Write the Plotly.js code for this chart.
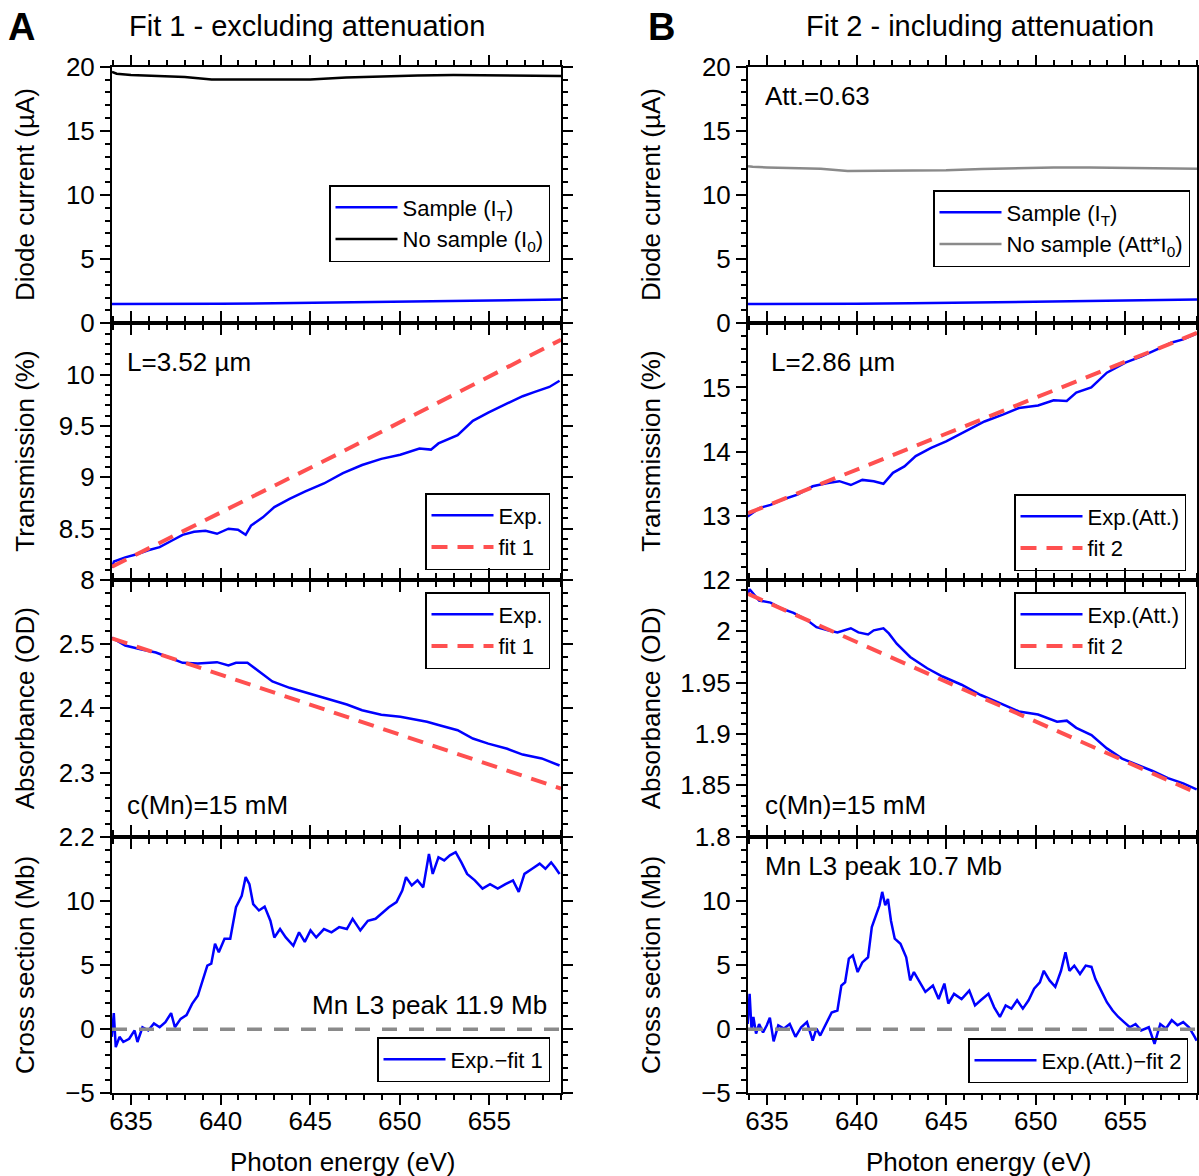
<!DOCTYPE html>
<html><head><meta charset="utf-8">
<script src="https://cdn.plot.ly/plotly-3.0.1.min.js"></script>
<style>body{margin:0;background:#fff}</style>
</head><body><div id="chart" style="width:1199px;height:1176px"></div>
<script>
// ---------------- data ----------------
const energyTicks = [635, 640, 645, 650, 655];

// Row 1: diode currents (µA)
const i0E = [633.94, 634.2, 635, 636.5, 638, 639.5, 641, 643, 645, 647, 649, 651, 653, 655, 657, 659];
const i0V = [19.6, 19.45, 19.35, 19.3, 19.2, 19.0, 19.0, 18.97, 19.0, 19.15, 19.25, 19.32, 19.35, 19.33, 19.3, 19.27];
const attI0V = [12.25, 12.2, 12.15, 12.12, 12.05, 11.88, 11.88, 11.9, 11.92, 12.02, 12.08, 12.15, 12.15, 12.12, 12.1, 12.05];
const itE = [633.94, 637, 640, 643, 646, 649, 652, 655, 659];
const itV = [1.5, 1.5, 1.52, 1.56, 1.62, 1.68, 1.74, 1.79, 1.85];

// Fit lines
const fitE = [633.94, 646.47, 659.0];
const fit1T = [8.13, 9.22, 10.34];
const fit2T = [13.04, 14.44, 15.85];
const fit1A = [2.509, 2.392, 2.275];
const fit2A = [2.0365, 1.939, 1.8425];

// Row 2: transmission (%)
const tLeftE = [633.94, 634.05, 634.68, 635.32, 635.96, 636.6, 637.24, 637.88, 638.52, 639.16, 639.8, 640.44, 640.97, 641.4, 641.7, 642.36, 643.0, 643.85, 644.7, 645.77, 646.83, 647.9, 648.97, 650.03, 651.1, 651.74, 652.16, 653.23, 654.08, 654.94, 656.0, 656.86, 657.5, 658.35, 658.92];
const tLeftV = [8.12, 8.18, 8.22, 8.25, 8.29, 8.32, 8.38, 8.44, 8.47, 8.48, 8.45, 8.5, 8.49, 8.44, 8.53, 8.61, 8.71, 8.79, 8.86, 8.94, 9.04, 9.12, 9.18, 9.22, 9.28, 9.27, 9.33, 9.41, 9.55, 9.63, 9.72, 9.79, 9.83, 9.88, 9.94];
const tRightE = [633.92, 634.56, 635.2, 635.84, 636.7, 637.55, 638.4, 639.04, 639.68, 640.32, 640.96, 641.5, 642.03, 642.67, 643.3, 644.16, 645.0, 646.08, 647.14, 648.2, 649.06, 650.13, 651.0, 651.73, 652.26, 653.1, 653.97, 655.03, 655.88, 656.74, 657.6, 658.23, 658.98];
const tRightV = [12.99, 13.12, 13.17, 13.25, 13.33, 13.46, 13.51, 13.54, 13.48, 13.56, 13.54, 13.5, 13.67, 13.77, 13.93, 14.06, 14.16, 14.32, 14.47, 14.58, 14.68, 14.72, 14.8, 14.79, 14.92, 15.0, 15.23, 15.39, 15.48, 15.59, 15.7, 15.75, 15.84];

// Row 3: absorbance (OD)
const aLeftE = [633.93, 634.68, 635.53, 636.39, 637.24, 637.88, 638.73, 639.37, 639.8, 640.44, 640.86, 641.5, 642.14, 642.89, 643.85, 644.91, 645.98, 647.05, 647.9, 648.97, 650.03, 650.67, 651.52, 652.16, 653.23, 654.08, 654.94, 656.0, 656.86, 657.92, 658.92];
const aLeftV = [2.51, 2.498, 2.492, 2.487, 2.478, 2.471, 2.47, 2.471, 2.472, 2.467, 2.471, 2.471, 2.457, 2.442, 2.432, 2.423, 2.414, 2.406, 2.397, 2.39, 2.387, 2.384, 2.379, 2.374, 2.366, 2.353, 2.345, 2.337, 2.328, 2.322, 2.311];
const aRightE = [633.92, 634.03, 634.56, 635.2, 635.84, 636.48, 637.23, 637.76, 638.4, 638.93, 639.68, 640.1, 640.64, 640.96, 641.5, 641.8, 642.24, 642.99, 643.94, 644.8, 645.86, 646.93, 648.0, 649.06, 650.13, 651.19, 651.73, 652.26, 653.11, 653.97, 654.82, 655.67, 656.52, 657.38, 658.23, 658.98];
const aRightV = [2.035, 2.041, 2.03, 2.028, 2.022, 2.018, 2.011, 2.004, 2.001, 1.999, 2.003, 1.999, 1.997, 2.001, 2.003, 1.998, 1.988, 1.975, 1.964, 1.956, 1.948, 1.938, 1.93, 1.922, 1.919, 1.912, 1.913, 1.906, 1.899, 1.886, 1.876, 1.87, 1.864, 1.857, 1.852, 1.846];

// Row 4: cross section (Mb)
const csLeftE = [633.93, 634.04, 634.15, 634.36, 634.57, 634.9, 635.2, 635.36, 635.64, 635.96, 636.28, 636.6, 636.92, 637.24, 637.45, 637.77, 638.1, 638.41, 638.73, 639.05, 639.26, 639.48, 639.69, 639.9, 640.22, 640.54, 640.86, 641.18, 641.4, 641.61, 641.82, 642.14, 642.46, 642.78, 643.0, 643.32, 643.64, 644.06, 644.38, 644.7, 645.02, 645.34, 645.77, 646.19, 646.62, 647.05, 647.37, 647.8, 648.22, 648.65, 648.97, 649.39, 649.82, 650.14, 650.35, 650.67, 650.99, 651.31, 651.63, 651.84, 652.16, 652.48, 652.8, 653.12, 653.44, 653.76, 654.19, 654.62, 655.04, 655.47, 655.9, 656.32, 656.64, 656.96, 657.39, 657.81, 658.13, 658.45, 658.67, 658.92];
const csLeftV = [-0.6, 1.25, -1.4, -0.6, -1.0, -0.75, -0.1, -1.0, 0.15, -0.1, 0.45, 0.15, 0.55, 1.25, 0.15, 0.8, 1.1, 1.97, 2.6, 4.05, 4.95, 5.1, 6.65, 6.0, 7.05, 7.05, 9.5, 10.4, 11.85, 11.3, 9.75, 9.25, 9.55, 8.45, 7.15, 7.8, 7.15, 6.5, 7.55, 6.8, 7.7, 7.15, 7.8, 7.55, 7.95, 7.8, 8.6, 7.7, 8.45, 8.6, 9.0, 9.5, 9.9, 10.8, 11.85, 11.2, 11.6, 11.05, 13.65, 12.1, 13.4, 13.15, 13.55, 13.8, 13.0, 12.1, 11.6, 10.95, 11.3, 10.95, 11.3, 11.6, 10.7, 12.1, 12.5, 12.9, 12.5, 13.0, 12.6, 12.1];
const csRightE = [633.92, 634.03, 634.14, 634.24, 634.39, 634.56, 634.78, 634.99, 635.16, 635.37, 635.63, 635.95, 636.27, 636.59, 636.91, 637.23, 637.55, 637.76, 637.97, 638.29, 638.61, 638.93, 639.15, 639.36, 639.57, 639.79, 640.06, 640.32, 640.64, 640.85, 641.07, 641.28, 641.43, 641.6, 641.75, 641.92, 642.13, 642.45, 642.77, 642.99, 643.2, 643.52, 643.84, 644.26, 644.58, 644.9, 645.12, 645.44, 645.86, 646.29, 646.61, 646.93, 647.36, 647.68, 648.0, 648.32, 648.64, 648.96, 649.28, 649.6, 649.91, 650.23, 650.45, 650.77, 651.09, 651.41, 651.66, 651.88, 652.15, 652.47, 652.79, 653.11, 653.33, 653.65, 653.97, 654.29, 654.61, 654.93, 655.25, 655.57, 655.88, 656.31, 656.63, 656.95, 657.27, 657.59, 657.91, 658.23, 658.55, 658.87, 658.98];
const csRightV = [0.4, 2.75, -0.1, 0.95, -0.35, 0.4, -0.25, 0.3, 0.9, -0.95, 0.3, 0.05, 0.4, -0.6, 0.15, 0.55, -0.9, 0.05, -0.5, 0.4, 1.3, 1.45, 3.4, 3.65, 5.5, 5.75, 4.45, 5.2, 5.6, 7.95, 8.85, 9.65, 10.7, 9.65, 10.15, 8.45, 7.05, 6.65, 5.6, 3.8, 4.45, 3.65, 2.9, 3.4, 2.35, 3.55, 2.0, 2.75, 2.35, 3.0, 1.85, 2.25, 2.75, 1.7, 0.95, 1.85, 1.6, 2.25, 1.6, 2.25, 3.15, 3.65, 4.55, 3.8, 3.3, 4.55, 6.0, 4.55, 4.95, 4.3, 4.95, 4.85, 3.9, 3.0, 2.1, 1.45, 0.95, 0.55, 0.15, 0.4, -0.1, 0.15, -1.15, 0.4, 0.05, 0.7, 0.3, 0.55, 0.15, -0.6, -0.9];
const zeroE = [633.94, 659.0];
const zeroV = [0, 0];

// axis ranges and tick labels
const energyRange = [633.94, 659.0];
const yRanges = [[0, 20], [0, 20], [8, 10.5], [12, 16], [2.2, 2.6], [1.8, 2.05], [-5, 15], [-5, 15]];
const yTickVals = [[0, 5, 10, 15, 20], [0, 5, 10, 15, 20], [8, 8.5, 9, 9.5, 10], [12, 13, 14, 15], [2.2, 2.3, 2.4, 2.5], [1.8, 1.85, 1.9, 1.95, 2], [-5, 0, 5, 10], [-5, 0, 5, 10]];
const yTickText = [['0', '5', '10', '15', '20'], ['0', '5', '10', '15', '20'], ['8', '8.5', '9', '9.5', '10'], ['12', '13', '14', '15'], ['2.2', '2.3', '2.4', '2.5'], ['1.8', '1.85', '1.9', '1.95', '2'], ['\u22125', '0', '5', '10'], ['\u22125', '0', '5', '10']];
const yMinorStep = [1, 1, 0.1, 0.2, 0.02, 0.01, 1, 1];
const yTitles = ['Diode current (\u00b5A)', 'Transmission (%)', 'Absorbance (OD)', 'Cross section (Mb)'];

// ---------------- layout geometry ----------------
const W = 1199, H = 1176;
const cols = [[112, 561], [748, 1197]];
const rows = [[66.7, 323.3], [323.3, 580], [580, 836.7], [836.7, 1093.3]];
const FONT = 'Liberation Sans, Arial, sans-serif';
const BLUE = '#0000ff', RED = '#ff5050', GREY = '#8a8a8a';
const px = x => x / W, py = y => 1 - y / H;

const layout = {
  width: W, height: H,
  margin: {l: 0, r: 0, t: 0, b: 0},
  paper_bgcolor: '#fff', plot_bgcolor: '#fff',
  font: {family: FONT, size: 26, color: '#000'},
  showlegend: true,
  annotations: [], shapes: []
};

const axisCommon = {
  showline: true, linecolor: '#000', linewidth: 2,
  ticks: 'outside', ticklen: 10, tickwidth: 2, tickcolor: '#000',
  mirror: 'allticks', showgrid: false, zeroline: false,
  tickfont: {family: FONT, size: 26, color: '#000'},
  fixedrange: true
};

for (let i = 0; i < 8; i++) {
  const row = Math.floor(i / 2), col = i % 2;
  const sfx = i === 0 ? '' : String(i + 1);
  const xa = 'x' + sfx, ya = 'y' + sfx;
  layout['xaxis' + sfx] = Object.assign({}, axisCommon, {
    domain: [px(cols[col][0]), px(cols[col][1])],
    range: energyRange, anchor: ya,
    tickmode: 'array', tickvals: energyTicks, ticktext: energyTicks.map(String),
    showticklabels: row === 3, ticklabelstandoff: -7,
    minor: {ticks: 'outside', ticklen: 5, tickwidth: 2, tickcolor: '#000', tickmode: 'linear', tick0: 635, dtick: 1, showgrid: false}
  });
  layout['yaxis' + sfx] = Object.assign({}, axisCommon, {
    domain: [py(rows[row][1]), py(rows[row][0])],
    range: yRanges[i], anchor: xa,
    tickmode: 'array', tickvals: yTickVals[i], ticktext: yTickText[i],
    minor: {ticks: 'outside', ticklen: 5, tickwidth: 2, tickcolor: '#000', tickmode: 'linear', tick0: yRanges[i][0], dtick: yMinorStep[i], showgrid: false}
  });
  // y-axis title
  layout.annotations.push({
    text: yTitles[row], xref: 'paper', yref: 'paper',
    x: px(col === 0 ? 25 : 651), y: py((rows[row][0] + rows[row][1]) / 2),
    xanchor: 'center', yanchor: 'middle', textangle: -90, showarrow: false,
    font: {family: FONT, size: 26, color: '#000'}
  });
}

// legends
const legendSpec = [
  {right: 550, top: 185}, {right: 1190, top: 190},
  {right: 550, bottom: 570}, {right: 1186, bottom: 571},
  {right: 550, top: 592}, {right: 1186, top: 592},
  {right: 550, bottom: 1082}, {right: 1188, bottom: 1083}
];
legendSpec.forEach((s, i) => {
  const key = i === 0 ? 'legend' : 'legend' + (i + 1);
  layout[key] = {
    x: px(s.right), xanchor: 'right',
    y: s.top !== undefined ? py(s.top) : py(s.bottom),
    yanchor: s.top !== undefined ? 'top' : 'bottom',
    bgcolor: 'rgba(255,255,255,0)', bordercolor: '#000', borderwidth: 1.5,
    font: {family: FONT, size: 22, color: '#000'},
    itemwidth: 62, traceorder: 'normal'
  };
});

// ---------------- traces ----------------
function ax(i) { const s = i === 0 ? '' : String(i + 1); return {xaxis: 'x' + s, yaxis: 'y' + s, legend: i === 0 ? 'legend' : 'legend' + (i + 1)}; }
const solid = (c, w) => ({color: c, width: w});
const traces = [];
function add(i, x, y, name, line, showlegend = true) {
  traces.push(Object.assign({type: 'scatter', mode: 'lines', x, y, name, line, showlegend, hoverinfo: 'skip'}, ax(i)));
}
add(0, itE, itV, 'Sample (I<sub>T</sub>)', solid(BLUE, 2.5));
add(0, i0E, i0V, 'No sample (I<sub>0</sub>)', solid('#000', 2.5));
add(1, itE, itV, 'Sample (I<sub>T</sub>)', solid(BLUE, 2.5));
add(1, i0E, attI0V, 'No sample (Att*I<sub>0</sub>)', solid(GREY, 2.5));
add(2, tLeftE, tLeftV, 'Exp.', solid(BLUE, 2.5));
add(2, fitE, fit1T, 'fit 1', {color: RED, width: 4, dash: '16px,10px'});
add(3, tRightE, tRightV, 'Exp.(Att.)', solid(BLUE, 2.5));
add(3, fitE, fit2T, 'fit 2', {color: RED, width: 4, dash: '16px,10px'});
add(4, aLeftE, aLeftV, 'Exp.', solid(BLUE, 2.5));
add(4, fitE, fit1A, 'fit 1', {color: RED, width: 4, dash: '16px,10px'});
add(5, aRightE, aRightV, 'Exp.(Att.)', solid(BLUE, 2.5));
add(5, fitE, fit2A, 'fit 2', {color: RED, width: 4, dash: '16px,10px'});
add(6, csLeftE, csLeftV, 'Exp.\u2212fit 1', solid(BLUE, 2.5));
add(6, zeroE, zeroV, 'zero', {color: GREY, width: 3.5, dash: '15px,12px'}, false);
add(7, csRightE, csRightV, 'Exp.(Att.)\u2212fit 2', solid(BLUE, 2.5));
add(7, zeroE, zeroV, 'zero', {color: GREY, width: 3.5, dash: '15px,12px'}, false);

// ---------------- text annotations ----------------
function note(text, x, y, xanchor, size, extra) {
  layout.annotations.push(Object.assign({
    text, xref: 'paper', yref: 'paper', x: px(x), y: py(y),
    xanchor, yanchor: 'middle', showarrow: false,
    font: {family: FONT, size, color: '#000'}
  }, extra || {}));
}
note('A', 21.5, 27, 'center', 38, {font: {family: FONT, size: 38, color: '#000', weight: 700}});
note('B', 661, 27, 'center', 38, {font: {family: FONT, size: 38, color: '#000', weight: 700}});
note('Fit 1 - excluding attenuation', 307, 26, 'center', 29);
note('Fit 2 - including attenuation', 980, 26, 'center', 29);
note('Att.=0.63', 763, 96, 'left', 26);
note('L=3.52 \u00b5m', 125, 362, 'left', 26);
note('L=2.86 \u00b5m', 769, 362, 'left', 26);
note('c(Mn)=15 mM', 125, 805, 'left', 26);
note('c(Mn)=15 mM', 763, 805, 'left', 26);
note('Mn L3 peak 11.9 Mb', 549, 1005, 'right', 26);
note('Mn L3 peak 10.7 Mb', 763, 866, 'left', 26);
note('Photon energy (eV)', 342, 1162, 'center', 26);
note('Photon energy (eV)', 978, 1162, 'center', 26);

Plotly.newPlot('chart', traces, layout, {staticPlot: true, displayModeBar: false});
</script>
</body></html>
